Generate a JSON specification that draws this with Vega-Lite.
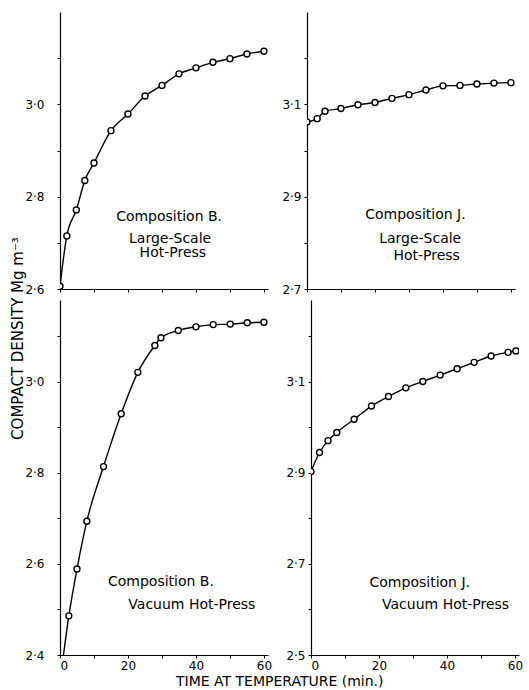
{
  "$schema": "https://vega.github.io/schema/vega-lite/v6.json",
  "background": "white",
  "padding": {"left": 10, "top": 12, "right": 6, "bottom": 0},
  "title": {"text": "COMPACT DENSITY Mg m⁻³", "orient": "left", "anchor": "middle", "fontSize": 15, "fontWeight": "normal", "font": "DejaVu Sans", "color": "black", "offset": -1, "dx": 12},
  "datasets": {
    "pts": [
      {"p": "TL", "t": 0, "d": 2.606}, {"p": "TL", "t": 2, "d": 2.715}, {"p": "TL", "t": 4.8, "d": 2.771}, {"p": "TL", "t": 7.3, "d": 2.835}, {"p": "TL", "t": 10, "d": 2.873}, {"p": "TL", "t": 15, "d": 2.943}, {"p": "TL", "t": 20, "d": 2.979}, {"p": "TL", "t": 25, "d": 3.018}, {"p": "TL", "t": 30, "d": 3.041}, {"p": "TL", "t": 35, "d": 3.066}, {"p": "TL", "t": 40, "d": 3.079}, {"p": "TL", "t": 45, "d": 3.091}, {"p": "TL", "t": 50, "d": 3.099}, {"p": "TL", "t": 55, "d": 3.109}, {"p": "TL", "t": 60, "d": 3.115},
      {"p": "TR", "t": 0, "d": 3.062}, {"p": "TR", "t": 3, "d": 3.069}, {"p": "TR", "t": 5.3, "d": 3.085}, {"p": "TR", "t": 10, "d": 3.091}, {"p": "TR", "t": 15, "d": 3.099}, {"p": "TR", "t": 20, "d": 3.104}, {"p": "TR", "t": 25, "d": 3.113}, {"p": "TR", "t": 30, "d": 3.121}, {"p": "TR", "t": 35, "d": 3.131}, {"p": "TR", "t": 40, "d": 3.140}, {"p": "TR", "t": 45, "d": 3.141}, {"p": "TR", "t": 50, "d": 3.144}, {"p": "TR", "t": 55, "d": 3.146}, {"p": "TR", "t": 60, "d": 3.147},
      {"p": "BL", "t": 0, "d": 2.34}, {"p": "BL", "t": 2.6, "d": 2.486}, {"p": "BL", "t": 5, "d": 2.589}, {"p": "BL", "t": 7.9, "d": 2.694}, {"p": "BL", "t": 12.8, "d": 2.814}, {"p": "BL", "t": 18, "d": 2.930}, {"p": "BL", "t": 22.9, "d": 3.021}, {"p": "BL", "t": 27.9, "d": 3.080}, {"p": "BL", "t": 29.7, "d": 3.097}, {"p": "BL", "t": 34.8, "d": 3.113}, {"p": "BL", "t": 40, "d": 3.121}, {"p": "BL", "t": 45.1, "d": 3.126}, {"p": "BL", "t": 50.1, "d": 3.127}, {"p": "BL", "t": 55.1, "d": 3.130}, {"p": "BL", "t": 60, "d": 3.131},
      {"p": "BR", "t": 0, "d": 2.903}, {"p": "BR", "t": 2.5, "d": 2.945}, {"p": "BR", "t": 5, "d": 2.971}, {"p": "BR", "t": 7.6, "d": 2.989}, {"p": "BR", "t": 12.7, "d": 3.018}, {"p": "BR", "t": 17.8, "d": 3.047}, {"p": "BR", "t": 22.8, "d": 3.068}, {"p": "BR", "t": 27.9, "d": 3.087}, {"p": "BR", "t": 32.9, "d": 3.101}, {"p": "BR", "t": 38, "d": 3.115}, {"p": "BR", "t": 43, "d": 3.129}, {"p": "BR", "t": 48, "d": 3.143}, {"p": "BR", "t": 53, "d": 3.157}, {"p": "BR", "t": 58, "d": 3.165}, {"p": "BR", "t": 60.3, "d": 3.168}
    ],
    "lbl": [
      {"p": "TL", "txt": "Composition B.", "t": 32.1, "d": 2.757},
      {"p": "TL", "txt": "Large-Scale", "t": 32.4, "d": 2.708},
      {"p": "TL", "txt": "Hot-Press", "t": 33.2, "d": 2.677},
      {"p": "TR", "txt": "Composition J.", "t": 31.9, "d": 2.860},
      {"p": "TR", "txt": "Large-Scale", "t": 33.3, "d": 2.808},
      {"p": "TR", "txt": "Hot-Press", "t": 35.2, "d": 2.771},
      {"p": "BL", "txt": "Composition B.", "t": 29.7, "d": 2.560},
      {"p": "BL", "txt": "Vacuum Hot-Press", "t": 38.8, "d": 2.510},
      {"p": "BR", "txt": "Composition J.", "t": 32, "d": 2.658},
      {"p": "BR", "txt": "Vacuum Hot-Press", "t": 39.6, "d": 2.610}
    ]
  },
  "vconcat": [
    {
      "spacing": 13,
      "hconcat": [
        {
          "width": 208, "height": 277,
          "encoding": {
            "x": {"field": "t", "type": "quantitative", "scale": {"domain": [0, 61.2], "nice": false, "zero": false}, "axis": {"values": [0, 10, 20, 30, 40, 50, 60], "labels": false, "title": null}},
            "y": {"field": "d", "type": "quantitative", "scale": {"domain": [2.6, 3.2], "nice": false, "zero": false}, "axis": {"values": [2.6, 2.7, 2.8, 2.9, 3.0, 3.1], "labelPadding": 13, "title": null, "labelExpr": "round(datum.value*10) % 2 == 0 ? replace(format(datum.value, '.1f'), '.', '·') : ''"}}
          },
          "layer": [
            {"data": {"name": "pts"}, "transform": [{"filter": "datum.p == 'TL'"}], "mark": {"type": "line", "interpolate": "monotone", "color": "black", "strokeWidth": 1.4, "clip": true}},
            {"data": {"name": "pts"}, "transform": [{"filter": "datum.p == 'TL'"}], "mark": {"type": "point", "shape": "circle", "filled": true, "fill": "white", "stroke": "black", "strokeWidth": 1.4, "size": 36, "opacity": 1, "clip": true}},
            {"data": {"name": "lbl"}, "transform": [{"filter": "datum.p == 'TL'"}], "mark": {"type": "text", "fontSize": 14, "color": "black", "align": "center", "baseline": "middle"}, "encoding": {"text": {"field": "txt"}}}
          ]
        },
        {
          "width": 208, "height": 277,
          "encoding": {
            "x": {"field": "t", "type": "quantitative", "scale": {"domain": [0, 61.2], "nice": false, "zero": false}, "axis": {"values": [0, 10, 20, 30, 40, 50, 60], "labels": false, "title": null}},
            "y": {"field": "d", "type": "quantitative", "scale": {"domain": [2.7, 3.3], "nice": false, "zero": false}, "axis": {"values": [2.7, 2.8, 2.9, 3.0, 3.1, 3.2], "labelPadding": 3, "title": null, "labelExpr": "round(datum.value*10) % 2 == 1 ? replace(format(datum.value, '.1f'), '.', '·') : ''"}}
          },
          "layer": [
            {"data": {"name": "pts"}, "transform": [{"filter": "datum.p == 'TR'"}], "mark": {"type": "line", "interpolate": "monotone", "color": "black", "strokeWidth": 1.4, "clip": true}},
            {"data": {"name": "pts"}, "transform": [{"filter": "datum.p == 'TR'"}], "mark": {"type": "point", "shape": "circle", "filled": true, "fill": "white", "stroke": "black", "strokeWidth": 1.4, "size": 36, "opacity": 1, "clip": true}},
            {"data": {"name": "lbl"}, "transform": [{"filter": "datum.p == 'TR'"}], "mark": {"type": "text", "fontSize": 14, "color": "black", "align": "center", "baseline": "middle"}, "encoding": {"text": {"field": "txt"}}}
          ]
        }
      ]
    },
    {
      "spacing": 13,
      "title": {"text": "TIME AT TEMPERATURE (min.)", "orient": "bottom", "anchor": "middle", "fontSize": 14, "fontWeight": "normal", "font": "DejaVu Sans", "color": "black", "offset": 4, "dx": 6},
      "hconcat": [
        {
          "width": 208, "height": 355,
          "encoding": {
            "x": {"field": "t", "type": "quantitative", "scale": {"domain": [0, 61.2], "nice": false, "zero": false}, "axis": {"values": [0, 10, 20, 30, 40, 50, 60], "title": null, "labelPadding": 2, "labelExpr": "datum.value % 20 == 0 ? datum.label : ''"}},
            "y": {"field": "d", "type": "quantitative", "scale": {"domain": [2.4, 3.18], "nice": false, "zero": false}, "axis": {"values": [2.4, 2.5, 2.6, 2.7, 2.8, 2.9, 3.0, 3.1], "labelPadding": 13, "title": null, "labelExpr": "round(datum.value*10) % 2 == 0 ? replace(format(datum.value, '.1f'), '.', '·') : ''"}}
          },
          "layer": [
            {"data": {"name": "pts"}, "transform": [{"filter": "datum.p == 'BL'"}], "mark": {"type": "line", "interpolate": "monotone", "color": "black", "strokeWidth": 1.4, "clip": true}},
            {"data": {"name": "pts"}, "transform": [{"filter": "datum.p == 'BL'"}], "mark": {"type": "point", "shape": "circle", "filled": true, "fill": "white", "stroke": "black", "strokeWidth": 1.4, "size": 36, "opacity": 1, "clip": true}},
            {"data": {"name": "lbl"}, "transform": [{"filter": "datum.p == 'BL'"}], "mark": {"type": "text", "fontSize": 14, "color": "black", "align": "center", "baseline": "middle"}, "encoding": {"text": {"field": "txt"}}}
          ]
        },
        {
          "width": 208, "height": 355,
          "encoding": {
            "x": {"field": "t", "type": "quantitative", "scale": {"domain": [0, 61.2], "nice": false, "zero": false}, "axis": {"values": [0, 10, 20, 30, 40, 50, 60], "title": null, "labelPadding": 2, "labelExpr": "datum.value % 20 == 0 ? datum.label : ''"}},
            "y": {"field": "d", "type": "quantitative", "scale": {"domain": [2.5, 3.28], "nice": false, "zero": false}, "axis": {"values": [2.5, 2.6, 2.7, 2.8, 2.9, 3.0, 3.1, 3.2], "labelPadding": 3, "title": null, "labelExpr": "round(datum.value*10) % 2 == 1 ? replace(format(datum.value, '.1f'), '.', '·') : ''"}}
          },
          "layer": [
            {"data": {"name": "pts"}, "transform": [{"filter": "datum.p == 'BR'"}], "mark": {"type": "line", "interpolate": "monotone", "color": "black", "strokeWidth": 1.4, "clip": true}},
            {"data": {"name": "pts"}, "transform": [{"filter": "datum.p == 'BR'"}], "mark": {"type": "point", "shape": "circle", "filled": true, "fill": "white", "stroke": "black", "strokeWidth": 1.4, "size": 36, "opacity": 1, "clip": true}},
            {"data": {"name": "lbl"}, "transform": [{"filter": "datum.p == 'BR'"}], "mark": {"type": "text", "fontSize": 14, "color": "black", "align": "center", "baseline": "middle"}, "encoding": {"text": {"field": "txt"}}}
          ]
        }
      ]
    }
  ],
  "spacing": 5,
  "config": {
    "view": {"stroke": null},
    "font": "DejaVu Sans",
    "axis": {"domainColor": "black", "domainWidth": 1.2, "tickColor": "black", "tickWidth": 1, "tickSize": 3, "labelColor": "black", "labelFontSize": 12, "labelFont": "DejaVu Sans", "grid": false}
  }
}
